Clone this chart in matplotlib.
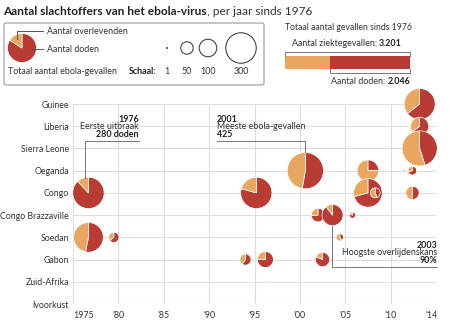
import matplotlib
matplotlib.use('Agg')
import matplotlib.pyplot as plt
from matplotlib import transforms
from matplotlib.patches import Wedge, Circle, FancyBboxPatch
from matplotlib.lines import Line2D

plt.rcParams['font.family'] = ['Lato', 'DejaVu Sans']

W, H = 449, 325
RED = '#b83b34'
ORANGE = '#e9a65e'
GRID = '#dddddd'
TXT = '#333333'

countries = ['Guinee', 'Liberia', 'Sierra Leone', 'Oeganda', 'Congo',
             'Congo Brazzaville', 'Soedan', 'Gabon', 'Zuid-Afrika', 'Ivoorkust']

# uitbraken: land, jaar, aantal gevallen, aantal doden
ob_country = ['Congo', 'Soedan', 'Soedan', 'Gabon', 'Ivoorkust', 'Congo', 'Gabon',
              'Zuid-Afrika', 'Oeganda', 'Congo Brazzaville', 'Gabon',
              'Congo Brazzaville', 'Soedan', 'Congo Brazzaville', 'Oeganda', 'Congo',
              'Congo', 'Oeganda', 'Oeganda', 'Congo', 'Guinee', 'Liberia', 'Sierra Leone']
ob_year = [1976.7, 1976.7, 1979.5, 1994.0, 1994.4, 1995.2, 1996.2,
           1996.3, 2000.6, 2002.0, 2002.5,
           2003.6, 2004.4, 2005.8, 2007.5, 2007.5,
           2008.3, 2011.5, 2012.4, 2012.4, 2013.2, 2013.2, 2013.2]
ob_cases = [318, 284, 34, 40, 1, 315, 82,
            2, 425, 59, 65,
            143, 17, 12, 149, 264,
            32, 1, 24, 57, 310, 105, 400]
ob_deaths = [280, 151, 22, 24, 0, 250, 62,
             1, 224, 44, 53,
             128, 7, 10, 37, 187,
             14, 1, 17, 29, 200, 68, 180]

total_cases = 3201
total_deaths = 2046
scale_values = [1, 50, 100, 300]

year_ticks = [1975, 1980, 1985, 1990, 1995, 2000, 2005, 2010, 2014.5]
year_labels = ['1975', "'80", "'85", "'90", "'95", "'00", "'05", "'10", "'14"]

K = 0.88  # straal in pixels = K * sqrt(gevallen)
FS = 6.4


def fx(x):
    return x / W


def fy(y):
    return 1 - y / H


fig = plt.figure(figsize=(W / 100, H / 100), dpi=100)
ax = fig.add_axes([fx(73), fy(304), fx(436) - fx(73), fy(104) - fy(304)])
ax.set_xlim(1975, 2015)
ax.set_ylim(len(countries) - 1, 0)
for s in ax.spines.values():
    s.set_visible(False)

for i in range(len(countries)):
    ax.axhline(i, color=GRID, lw=0.8, zorder=0)
for t in year_ticks[:-1]:
    ax.axvline(t, color=GRID, lw=0.8, zorder=0)

ax.set_yticks(range(len(countries)))
ax.set_yticklabels(countries, fontsize=6.3, color=TXT)
ax.set_xticks(year_ticks)
ax.set_xticklabels(year_labels, fontsize=FS, color=TXT)
ax.xaxis.get_ticklabels()[0].set_ha('left')
ax.tick_params(length=0)
ax.tick_params(axis='y', pad=3)
ax.tick_params(axis='x', pad=5)


def draw_pie(target, x, y, r, frac, base_tr):
    off = transforms.ScaledTranslation(x, y, base_tr)
    a = frac * 360
    if a > 0:
        target.add_artist(Wedge((0, 0), r, 90 - a, 90, transform=off, facecolor=RED,
                                edgecolor='white', lw=0.5, clip_on=False, zorder=3))
    if a < 360:
        target.add_artist(Wedge((0, 0), r, 90, 450 - a, transform=off, facecolor=ORANGE,
                                edgecolor='white', lw=0.5, clip_on=False, zorder=3))


for c, yr, n, d in zip(ob_country, ob_year, ob_cases, ob_deaths):
    draw_pie(ax, yr, countries.index(c), K * n ** 0.5, d / n, ax.transData)

# titel
t1 = fig.text(fx(3), fy(15), 'Aantal slachtoffers van het ebola-virus', fontsize=8.6,
              fontweight='bold', color='#222222', va='baseline')
fig.canvas.draw()
bb = t1.get_window_extent()
fig.text(bb.x1, fy(15) * H, ', per jaar sinds 1976', fontsize=8.6, color='#333333',
         va='baseline', transform=transforms.IdentityTransform())

# legendakader
fig.add_artist(FancyBboxPatch((fx(4), fy(85)), fx(264) - fx(4), fy(23) - fy(85),
                              boxstyle='round,pad=0,rounding_size=0.006',
                              transform=fig.transFigure, facecolor='none',
                              edgecolor='#9a9a9a', lw=0.8))
draw_pie(fig, fx(22), fy(48), 14.5, 0.84, fig.transFigure)
for xs, ys in [([17, 17, 43], [39, 31, 31]), ([32, 43], [49, 49])]:
    fig.add_artist(Line2D([fx(v) for v in xs], [fy(v) for v in ys], color='#555555',
                          lw=0.7, transform=fig.transFigure, zorder=4))
fig.text(fx(47), fy(31), 'Aantal overlevenden', fontsize=FS, color=TXT, va='center')
fig.text(fx(47), fy(50), 'Aantal doden', fontsize=FS, color=TXT, va='center')
fig.text(fx(8), fy(71), 'Totaal aantal ebola-gevallen', fontsize=FS, color=TXT, va='center')
fig.text(fx(129), fy(71), 'Schaal:', fontsize=FS, fontweight='bold', color='#222222',
         va='center')
for v, xc in zip(scale_values, [167, 187, 208, 241]):
    r = K * v ** 0.5
    off = transforms.ScaledTranslation(fx(xc), fy(48), fig.transFigure)
    if v == 1:
        fig.add_artist(Circle((0, 0), 1.0, transform=off, facecolor='#444444', lw=0))
    else:
        fig.add_artist(Circle((0, 0), r, transform=off, facecolor='none',
                              edgecolor='#444444', lw=0.8))
    fig.text(fx(xc), fy(71), str(v), fontsize=FS, color=TXT, ha='center', va='center')

# totaal balk
fig.text(fx(285), fy(28), 'Totaal aantal gevallen sinds 1976', fontsize=6.2, color=TXT,
         va='center')
bax = fig.add_axes([fx(285), fy(69), fx(410) - fx(285), fy(56) - fy(69)])
bax.barh(0, total_cases - total_deaths, height=1, color=ORANGE)
bax.barh(0, total_deaths, left=total_cases - total_deaths, height=1, color=RED)
bax.set_xlim(0, total_cases)
bax.set_ylim(-0.5, 0.5)
bax.axis('off')
btr = transforms.blended_transform_factory(bax.transData, fig.transFigure)
fig.add_artist(Line2D([0, 0, total_cases, total_cases], [fy(56), fy(52), fy(52), fy(56)],
                      color='#777777', lw=0.7, transform=btr))
s0 = total_cases - total_deaths
fig.add_artist(Line2D([s0, s0, total_cases, total_cases], [fy(69), fy(73), fy(73), fy(69)],
                      color='#777777', lw=0.7, transform=btr))
tb = fig.text(fx(402), fy(43), f'{total_cases:,}'.replace(',', '.'), fontsize=FS,
              fontweight='bold', color='#222222', ha='right', va='center')
fig.canvas.draw()
fig.text(tb.get_window_extent().x0, fy(43) * H, 'Aantal ziektegevallen: ', fontsize=FS,
         color=TXT, ha='right', va='center', transform=transforms.IdentityTransform())
td = fig.text(fx(410), fy(81), f'{total_deaths:,}'.replace(',', '.'), fontsize=FS,
              fontweight='bold', color='#222222', ha='right', va='center')
fig.canvas.draw()
fig.text(td.get_window_extent().x0, fy(81) * H, 'Aantal doden: ', fontsize=FS,
         color=TXT, ha='right', va='center', transform=transforms.IdentityTransform())


# annotaties
def note(lines, x, y0, ha):
    for i, (s, bold) in enumerate(lines):
        fig.text(fx(x), fy(y0 + i * 7.6), s, fontsize=6.4, ha=ha, va='center',
                 fontweight='bold' if bold else 'normal',
                 color='#222222' if bold else TXT, linespacing=1.0)


def leader(xs, ys):
    fig.add_artist(Line2D([fx(v) for v in xs], [fy(v) for v in ys], color='#777777',
                          lw=0.7, transform=fig.transFigure, zorder=2))


note([('1976', True), ('Eerste uitbraak', False), ('280 doden', True)], 139, 119, 'right')
leader([139, 85, 85], [141, 141, 178])
note([('2001', True), ('Meeste ebola-gevallen', False), ('425', True)], 217, 119, 'left')
leader([217, 305, 305], [141, 141, 152])
note([('2003', True), ('Hoogste overlijdenskans', False), ('90%', True)], 437, 245, 'right')
leader([437, 332, 332], [267, 267, 226])

fig.savefig('out.png', dpi=100, facecolor='white')
